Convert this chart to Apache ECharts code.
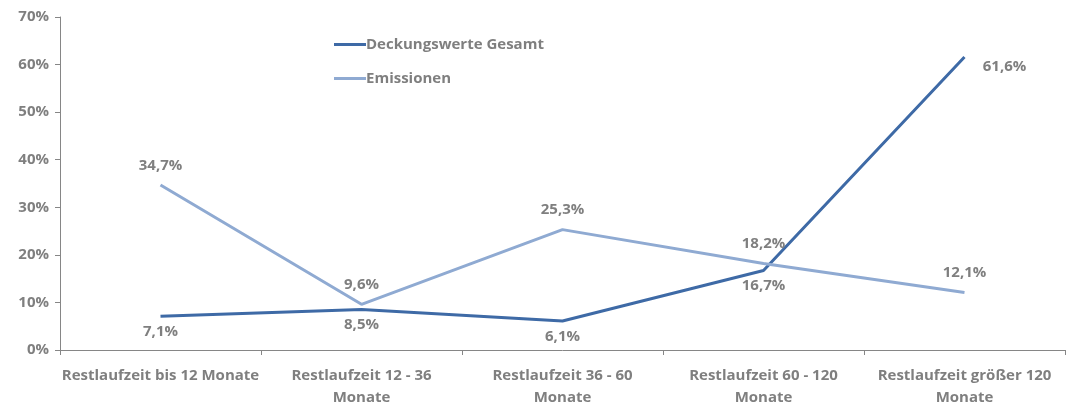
<!DOCTYPE html>
<html>
<head>
<meta charset="utf-8">
<script src="https://cdn.jsdelivr.net/npm/echarts@6/dist/echarts.min.js"></script>
<style>
  html, body { margin: 0; padding: 0; background: #fff; }
  #chart { width: 1067px; height: 407px; }
</style>
</head>
<body>
<div id="chart"></div>
<script>
// Daten aus dem Diagramm
const categories = [
    'Restlaufzeit bis 12 Monate',
    'Restlaufzeit 12 - 36\nMonate',
    'Restlaufzeit 36 - 60\nMonate',
    'Restlaufzeit 60 - 120\nMonate',
    'Restlaufzeit größer 120\nMonate'
];
const deckungswerte = [7.1, 8.5, 6.1, 16.7, 61.6];
const emissionen = [34.7, 9.6, 25.3, 18.2, 12.1];

const textGray = '#7f7f7f';
const axisGray = '#868686';
const fontName = 'Open Sans';
const fs = 15;

function fmt(p) {
    return p.value.toFixed(1).replace('.', ',') + '%';
}

const myChart = echarts.init(document.getElementById('chart'));
const option = {
    animation: false,
    grid: { left: 60, right: 2, top: 17, bottom: 57, outerBoundsMode: 'none' },
    legend: {
        orient: 'vertical',
        left: 329,
        top: 32,
        itemGap: 19,
        itemWidth: 32,
        itemHeight: 3,
        icon: 'rect',
        textStyle: { color: textGray, fontFamily: fontName, fontWeight: 'bold', fontSize: fs, padding: [0, 0, 0, -5] },
        data: ['Deckungswerte Gesamt', 'Emissionen']
    },
    xAxis: {
        type: 'category',
        data: categories,
        axisLine: { lineStyle: { color: axisGray } },
        axisTick: { show: true, length: 5, lineStyle: { color: axisGray } },
        axisLabel: {
            color: textGray, fontFamily: fontName, fontWeight: 'bold', fontSize: fs,
            margin: 15, lineHeight: 22, interval: 0
        }
    },
    yAxis: {
        type: 'value',
        min: 0, max: 70, interval: 10,
        splitLine: { show: false },
        axisLine: { show: true, lineStyle: { color: axisGray } },
        axisTick: { show: true, length: 5, lineStyle: { color: axisGray } },
        axisLabel: {
            color: textGray, fontFamily: fontName, fontWeight: 'bold', fontSize: fs,
            margin: 11, formatter: '{value}%'
        }
    },
    series: [
        {
            name: 'Deckungswerte Gesamt',
            type: 'line',
            data: deckungswerte,
            symbol: 'circle',
            symbolSize: 0.1,
            color: '#3e6aa6',
            lineStyle: { width: 3 },
            label: {
                show: true,
                position: 'bottom',
                distance: 8,
                formatter: fmt,
                color: textGray, fontFamily: fontName, fontWeight: 'bold', fontSize: fs
            },
            labelLayout: function (params) {
                // letzter Wert steht rechts neben dem Punkt
                if (params.dataIndex === 4) {
                    return { dx: 40, dy: -6 };
                }
            }
        },
        {
            name: 'Emissionen',
            type: 'line',
            data: emissionen,
            symbol: 'circle',
            symbolSize: 0.1,
            color: '#8faad2',
            lineStyle: { width: 3 },
            label: {
                show: true,
                position: 'top',
                distance: 12,
                formatter: fmt,
                color: textGray, fontFamily: fontName, fontWeight: 'bold', fontSize: fs
            }
        }
    ]
};
myChart.setOption(option);
</script>
</body>
</html>
